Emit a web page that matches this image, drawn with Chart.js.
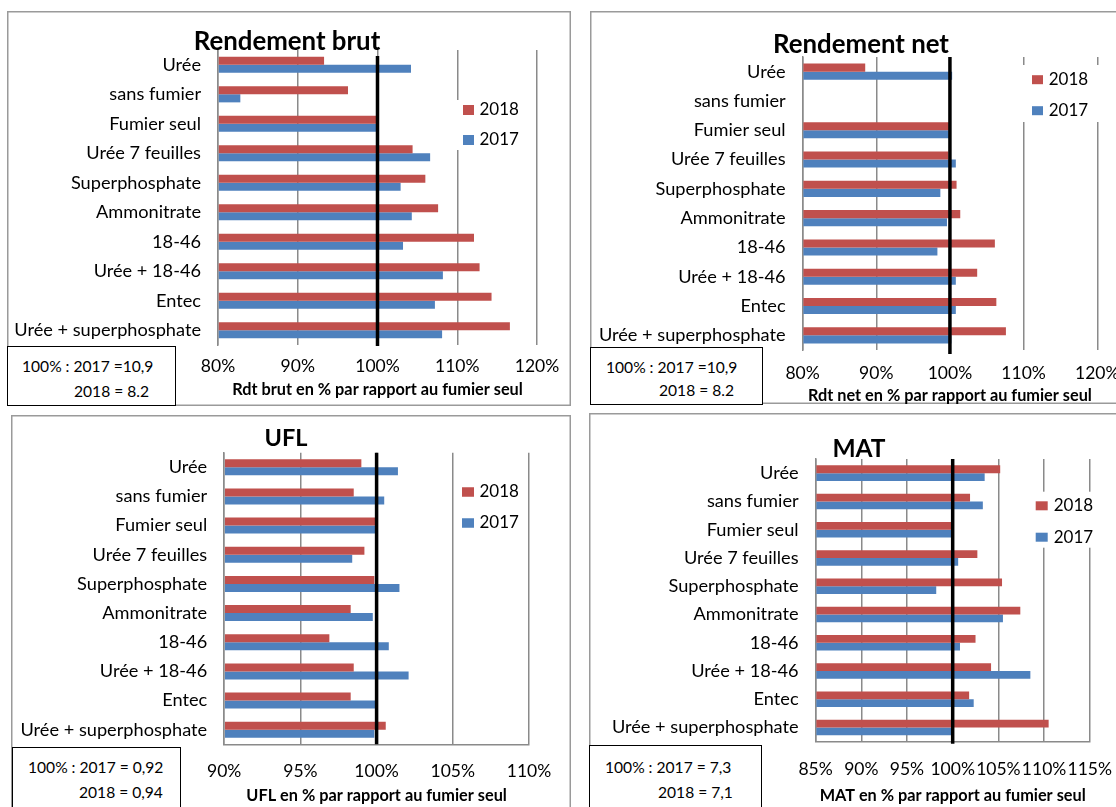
<!DOCTYPE html>
<html>
<head>
<meta charset="utf-8">
<script src="https://cdn.jsdelivr.net/npm/chart.js@4.4.0/dist/chart.umd.min.js"></script>
<style>
  html, body { margin: 0; padding: 0; background: #fff; }
  body { width: 1116px; height: 807px; overflow: hidden; position: relative; font-family: Lato, sans-serif; }
  canvas { position: absolute; }
  .note { position: absolute; border: 1px solid #000; background: #fff; box-sizing: border-box; color: #000; font-size: 15.6px; z-index: 2; }
  .note span { position: absolute; white-space: nowrap; line-height: 1; transform: translateY(-50%); }
</style>
</head>
<body>
<canvas id="cBrut" width="564" height="395" style="left:7px;top:11px"></canvas>
<canvas id="cNet" width="542" height="393" style="left:590px;top:11px"></canvas>
<canvas id="cUfl" width="560" height="396" style="left:11px;top:415px"></canvas>
<canvas id="cMat" width="540" height="398" style="left:589px;top:413px"></canvas>

<div class="note" style="left:7px;top:346px;width:169px;height:60px">
  <span style="left:14px;top:20px">100% : 2017 =10,9</span>
  <span style="left:66px;top:45px">2018 = 8.2</span>
</div>
<div class="note" style="left:590px;top:347px;width:173px;height:58px">
  <span style="left:15px;top:20px">100% : 2017 =10,9</span>
  <span style="left:68px;top:43px">2018 = 8.2</span>
</div>
<div class="note" style="left:12px;top:747px;width:169px;height:66px">
  <span style="left:15px;top:20px">100% : 2017 = 0,92</span>
  <span style="left:66px;top:45px">2018 = 0,94</span>
</div>
<div class="note" style="left:589px;top:745px;width:173px;height:68px">
  <span style="left:15px;top:22px">100% : 2017 = 7,3</span>
  <span style="left:68px;top:47px">2018 = 7,1</span>
</div>

<script>
// Treatments, top to bottom
const categories = ['Urée', 'sans fumier', 'Fumier seul', 'Urée 7 feuilles', 'Superphosphate',
  'Ammonitrate', '18-46', 'Urée + 18-46', 'Entec', 'Urée + superphosphate'];

// Rendement brut (% of "Fumier seul")
const brut2018 = [93.3, 96.3, 100, 104.4, 106.0, 107.6, 112.1, 112.8, 114.3, 116.6];
const brut2017 = [104.2, 82.8, 100, 106.6, 102.9, 104.3, 103.2, 108.2, 107.2, 108.1];

// Rendement net (% of "Fumier seul"); no value for "sans fumier"
const net2018 = [88.5, null, 100, 99.8, 100.9, 101.4, 106.1, 103.7, 106.3, 107.6];
const net2017 = [100.3, null, 100, 100.8, 98.7, 99.6, 98.3, 100.8, 100.8, 100.2];

// UFL (% of "Fumier seul")
const ufl2018 = [99.0, 98.5, 100, 99.2, 99.85, 98.3, 96.9, 98.5, 98.3, 100.6];
const ufl2017 = [101.4, 100.5, 100, 98.4, 101.5, 99.75, 100.8, 102.1, 99.9, 99.85];

// MAT (% of "Fumier seul")
const mat2018 = [105.2, 101.9, 100, 102.7, 105.4, 107.4, 102.5, 104.2, 101.8, 110.5];
const mat2017 = [103.5, 103.3, 100, 100.6, 98.2, 105.5, 100.8, 108.5, 102.3, 100];

// Axis ticks (%)
const brutTicks = [80, 90, 100, 110, 120];
const netTicks = [80, 90, 100, 110, 120];
const uflTicks = [90, 95, 100, 105, 110];
const matTicks = [85, 90, 95, 100, 105, 110, 115];

const RED = '#C0504D';
const BLUE = '#4F81BD';
const GRID = '#8a8a8a';

Chart.defaults.font.family = 'Lato, sans-serif';
Chart.defaults.color = '#000';

// Grey frame around each panel
const panelFrame = {
  id: 'panelFrame',
  beforeDraw(chart, args, o) {
    const ctx = chart.ctx;
    ctx.save();
    ctx.fillStyle = '#fff';
    ctx.fillRect(0, 0, chart.width, chart.height);
    ctx.strokeStyle = '#9a9a9a';
    ctx.lineWidth = 1.5;
    ctx.strokeRect(0.75, 0.75, chart.width - 1.5, chart.height - 1.5);
    ctx.restore();
  }
};

// Thick black reference line at 100 %
const refLine = {
  id: 'refLine',
  afterDatasetsDraw(chart, args, o) {
    const ctx = chart.ctx, a = chart.chartArea;
    const x = chart.scales.x.getPixelForValue(o.value);
    ctx.save();
    ctx.strokeStyle = '#000';
    ctx.lineWidth = 3.5;
    ctx.beginPath();
    ctx.moveTo(x, a.top + (o.topOffset || 0));
    ctx.lineTo(x, a.bottom + (o.bottomExtra || 0));
    ctx.stroke();
    ctx.restore();
  }
};

// Bold panel title
const panelTitle = {
  id: 'panelTitle',
  afterDraw(chart, args, o) {
    const ctx = chart.ctx;
    ctx.save();
    ctx.font = 'bold ' + o.size + 'px Lato, sans-serif';
    ctx.fillStyle = '#000';
    ctx.textAlign = 'center';
    ctx.textBaseline = 'alphabetic';
    ctx.fillText(o.text, o.x, o.y);
    ctx.restore();
  }
};

// Legend box with square markers, laid over the plot
const boxLegend = {
  id: 'boxLegend',
  afterDraw(chart, args, o) {
    const ctx = chart.ctx;
    ctx.save();
    ctx.fillStyle = '#fff';
    ctx.fillRect(o.box[0], o.box[1], o.box[2], o.box[3]);
    ctx.font = o.size + 'px Lato, sans-serif';
    ctx.textBaseline = 'middle';
    chart.data.datasets.forEach((ds, i) => {
      const cy = o.y + i * o.dy;
      ctx.fillStyle = ds.backgroundColor;
      ctx.fillRect(o.x, cy - o.mh / 2, o.mw, o.mh);
      ctx.fillStyle = '#000';
      ctx.fillText(ds.label, o.tx, cy);
    });
    ctx.restore();
  }
};

function makePanel(id, cfg) {
  const canvas = document.getElementById(id);
  const W = canvas.width, H = canvas.height;
  const ticks = cfg.ticks;
  return new Chart(canvas, {
    type: 'bar',
    data: {
      labels: categories,
      datasets: [
        { label: '2018', data: cfg.d2018, backgroundColor: RED, base: ticks[0] },
        { label: '2017', data: cfg.d2017, backgroundColor: BLUE, base: ticks[0] }
      ]
    },
    options: {
      indexAxis: 'y',
      responsive: false,
      animation: false,
      devicePixelRatio: 1,
      categoryPercentage: 0.55,
      barPercentage: 1.0,
      layout: { padding: { left: 0, top: cfg.area.top, right: W - cfg.area.right, bottom: 0 } },
      scales: {
        y: {
          type: 'category',
          grid: { display: false, drawTicks: false },
          border: { display: true, color: GRID, width: 1.5 },
          ticks: { font: { size: 18.2 }, color: '#000', padding: cfg.yPad, autoSkip: false },
          afterFit(scale) { scale.width = cfg.area.left; }
        },
        x: {
          type: 'linear',
          min: ticks[0],
          max: ticks[ticks.length - 1],
          afterBuildTicks(scale) { scale.ticks = ticks.map(v => ({ value: v })); },
          grid: { color: GRID, lineWidth: 1.5, drawTicks: false },
          border: { display: cfg.bottomLine, color: GRID, width: 1.5 },
          ticks: { font: { size: 17.5 }, color: '#000', padding: cfg.xPad, maxRotation: 0,
                   autoSkip: false, callback: v => v + '%' },
          title: { display: true, text: cfg.axisTitle, color: '#000',
                   font: { size: 16.3, weight: 'bold', lineHeight: 1 },
                   padding: { top: 0, bottom: cfg.titlePad } },
          afterFit(scale) { scale.height = H - cfg.area.bottom; }
        }
      },
      plugins: {
        legend: { display: false },
        tooltip: { enabled: false },
        refLine: { value: 100, topOffset: cfg.refTop, bottomExtra: cfg.refBottom },
        panelTitle: cfg.title,
        boxLegend: cfg.legend
      }
    },
    plugins: [panelFrame, refLine, panelTitle, boxLegend]
  });
}

makePanel('cBrut', {
  d2018: brut2018, d2017: brut2017, ticks: brutTicks,
  area: { left: 211, right: 530, top: 39, bottom: 334 },
  yPad: 17, xPad: 11, titlePad: 8, bottomLine: false, refTop: 6, refBottom: 1,
  axisTitle: 'Rdt brut en % par rapport au fumier seul',
  title: { text: 'Rendement brut', x: 280, y: 39, size: 25.8 },
  legend: { box: [446, 89, 80, 50], x: 456, mw: 11, mh: 10, tx: 472.5, y: 99, dy: 30, size: 17 }
});

makePanel('cNet', {
  d2018: net2018, d2017: net2017, ticks: netTicks,
  area: { left: 212.6, right: 507.7, top: 46, bottom: 339 },
  yPad: 17, xPad: 12.5, titlePad: 0, bottomLine: false, refTop: 0, refBottom: 4,
  axisTitle: 'Rdt net en % par rapport au fumier seul',
  title: { text: 'Rendement net', x: 271, y: 42, size: 25.8 },
  legend: { box: [430, 54, 82, 57], x: 442, mw: 11, mh: 9, tx: 458.7, y: 68.7, dy: 31, size: 17 }
});

makePanel('cUfl', {
  d2018: ufl2018, d2017: ufl2017, ticks: uflTicks,
  area: { left: 213.2, right: 518, top: 37.7, bottom: 329.3 },
  yPad: 17, xPad: 17, titlePad: 7, bottomLine: true, refTop: 0, refBottom: 0,
  axisTitle: 'UFL en % par rapport au fumier seul',
  title: { text: 'UFL', x: 275, y: 31, size: 23.5 },
  legend: { box: [445, 62, 68, 60], x: 451, mw: 12, mh: 9.5, tx: 468.5, y: 77, dy: 31, size: 17 }
});

makePanel('cMat', {
  d2018: mat2018, d2017: mat2017, ticks: matTicks,
  area: { left: 226.6, right: 504.5, top: 46, bottom: 328.7 },
  yPad: 17, xPad: 17, titlePad: 7, bottomLine: true, refTop: 0, refBottom: 2,
  axisTitle: 'MAT en % par rapport au fumier seul',
  title: { text: 'MAT', x: 270, y: 43.7, size: 24.5 },
  legend: { box: [441, 78.7, 70, 56], x: 446.7, mw: 12, mh: 9, tx: 464.7, y: 92.8, dy: 31.4, size: 17 }
});
</script>
</body>
</html>
